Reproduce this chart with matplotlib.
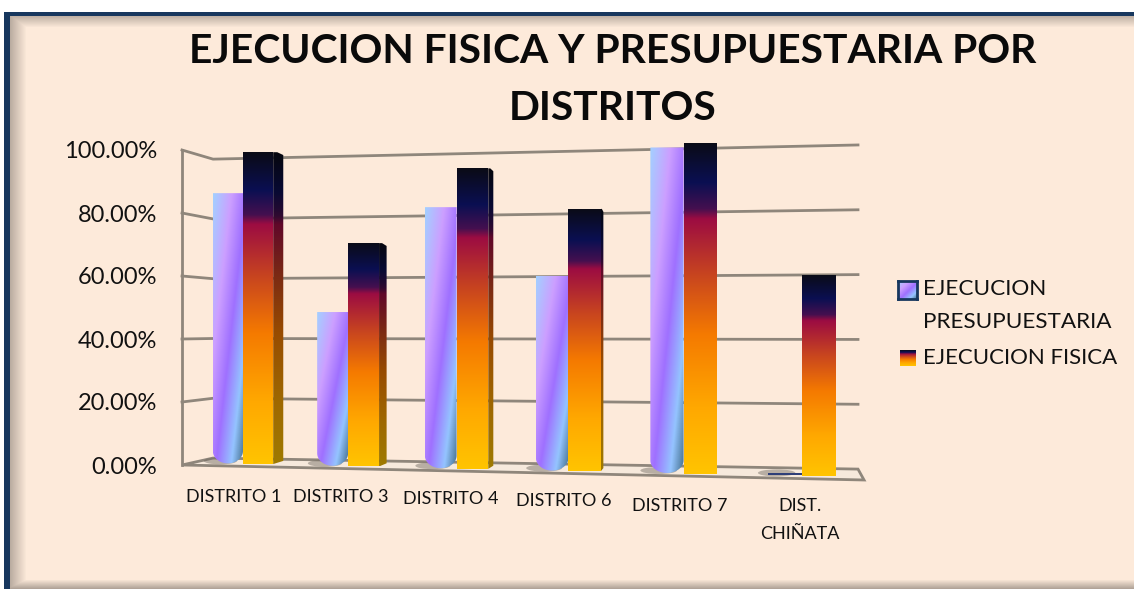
import numpy as np
import matplotlib
matplotlib.use("Agg")
import matplotlib.pyplot as plt
from matplotlib.colors import LinearSegmentedColormap
from matplotlib.patches import Polygon, Ellipse, Rectangle

W, H = 1134, 589

distritos = ["DISTRITO 1", "DISTRITO 3", "DISTRITO 4", "DISTRITO 6", "DISTRITO 7", "DIST.\nCHIÑATA"]
presupuestaria = [86, 48.4, 81, 59.7, 98.5, 0]
fisica = [99, 70, 93, 80.2, 100, 60]
yticks = [0, 20, 40, 60, 80, 100]
leyenda = ["EJECUCION\nPRESUPUESTARIA", "EJECUCION FISICA"]
titulo = "EJECUCION FISICA Y PRESUPUESTARIA POR\nDISTRITOS"

plt.rcParams["font.family"] = ["Lato", "DejaVu Sans"]

fis_cmap = LinearSegmentedColormap.from_list("fis", [
    (0.0, "#FFC400"), (0.2, "#FFA800"), (0.42, "#F57A00"), (0.6, "#C8451F"),
    (0.77, "#9C0C42"), (0.80, "#45104F"), (0.88, "#0A0F52"), (1.0, "#0B0B16")])
pres_cmap = LinearSegmentedColormap.from_list("pres", [
    (0.0, "#A3D0FF"), (0.3, "#CC9FFF"), (0.55, "#9F70FF"), (0.8, "#94C4FF"), (1.0, "#44708E")])

fig = plt.figure(figsize=(W / 100, H / 100), dpi=100, facecolor="white")

# fondo del panel con sombra interior
bg = fig.add_axes([0, 0, 1, 1], zorder=0)
bg.set_axis_off()
xx, yy = np.meshgrid(np.arange(W), np.arange(H))
sombra = np.maximum.reduce([
    np.clip(1 - (xx - 10) / 16, 0, 1) * 0.35,
    np.clip(1 - (yy - 15) / 12, 0, 1) * 0.35,
    np.clip(1 - (H - 1 - yy) / 9, 0, 1) * 0.4])
panel = np.array([253, 234, 218]) / 255
img = panel[None, None, :] * (1 - sombra[..., None] * 0.75)
bg.imshow(img, extent=[0, W, H, 0], aspect="auto")
bg.add_patch(Rectangle((4, 12), 6, H - 12, color="#17375E", lw=0))
bg.add_patch(Rectangle((4, 12), W - 4, 3.5, color="#17375E", lw=0))
bg.add_patch(Rectangle((0, 0), W, 12, color="white", lw=0))
bg.add_patch(Rectangle((0, 0), 4, H, color="white", lw=0))
bg.set_xlim(0, W)
bg.set_ylim(H, 0)

# ejes: pared izquierda x=182, derecha x=858, 0% en y=465, 100% en y=150
ax = fig.add_axes([182 / W, 1 - 465 / H, 676 / W, 315 / H], zorder=1)
ax.patch.set_alpha(0)
for s in ax.spines.values():
    s.set_visible(False)


def px(x):
    # un poco de perspectiva en x
    return x + 0.015 * x * (x - 5)


def base(x):
    return 0.3 - 0.76 * x


def escala(x):
    return 1 + 0.0128 * x


def alto(x, v):
    return base(x) + v * escala(x)


def pared(v, x):
    # pared del fondo: se abre hacia la derecha
    t = (x + 0.268) / (5.5 + 0.268)
    izq = v * 0.949 + 2.2
    der = v * 1.029 - 1.3
    return izq + (der - izq) * t


X_IZQ, X_FONDO, X_DER = -0.5456, -0.268, 5.5
GRIS = "#8F867B"

# piso
ax.add_patch(Polygon([(X_IZQ, 0), (X_FONDO, pared(0, X_FONDO)), (X_DER, pared(0, X_DER)), (5.554, -4.76)],
                     closed=True, facecolor="#F6E9DC", edgecolor=GRIS, lw=2, clip_on=False, zorder=1))
# rejilla y pared izquierda
ax.plot([X_IZQ, X_IZQ], [0, 100], color=GRIS, lw=2, zorder=1, clip_on=False)
for v in yticks[1:]:
    ax.plot([X_IZQ, X_FONDO, X_DER], [v, pared(v, X_FONDO), pared(v, X_DER)],
            color=GRIS, lw=2, zorder=1, clip_on=False)


def con_forma(datos, cmap, extent, forma, z):
    im = ax.imshow(datos, cmap=cmap, vmin=0, vmax=1, origin="lower", extent=extent,
                   aspect="auto", interpolation="bilinear", zorder=z)
    forma.set_transform(ax.transData)
    im.set_clip_path(forma)
    im.set_clip_box(fig.bbox)
    return im


grad_v = np.linspace(0, 1, 256)[:, None]
u, w = np.meshgrid(np.linspace(0, 1, 64), np.linspace(0, 1, 256))
grad_cil = u * 0.5 + (1 - w) * 0.5

for i in range(len(distritos)):
    xc = px(i)
    ancho = 0.27 * (1 + 0.025 * i)
    b = base(i)

    # sombra en el piso
    ax.add_patch(Ellipse((xc - ancho * 0.75, b + 1.0), ancho * 1.1, 2.2, color="#6E675E",
                         alpha=0.45, lw=0, zorder=2, clip_on=False))

    # cilindro presupuestaria
    top = alto(i, presupuestaria[i])
    x0, x1 = xc - ancho, xc
    if presupuestaria[i] > 1:
        t = np.linspace(np.pi, 2 * np.pi, 40)
        arco_x = (x0 + x1) / 2 + ancho / 2 * np.cos(t)
        arco_y = b + 4.2 + 4.0 * np.sin(t)
        pts = [(x0, top)] + list(zip(arco_x, arco_y)) + [(x1, top)]
        con_forma(grad_cil, pres_cmap, [x0, x1, b, top], Polygon(pts, closed=True), 3)
    else:
        ax.add_patch(Rectangle((x0, b + 0.2), ancho, 0.9, color="#2F3F78", lw=0, zorder=3, clip_on=False))

    # barra fisica con cara lateral
    top = alto(i, fisica[i])
    x0, x1 = xc, xc + ancho
    lado = max(0.0, 0.09 * (1 - i / 4.0))
    if lado > 0:
        lat = [(x1, b), (x1, top), (x1 + lado * 0.4, top), (x1 + lado, top - 0.9), (x1 + lado, b + 1.0)]
        con_forma(grad_v * 0.999, LinearSegmentedColormap.from_list(
            "lat", [tuple(np.array(fis_cmap(g)[:3]) * 0.62) for g in np.linspace(0, 1, 40)]),
            [x1, x1 + lado, b, top], Polygon(lat, closed=True), 4)
    frente = [(x0, b), (x0, top), (x1, top), (x1, b)]
    con_forma(grad_v, fis_cmap, [x0, x1, b, top], Polygon(frente, closed=True), 5)

ax.set_xlim(X_IZQ, X_DER)
ax.set_ylim(0, 100)
ax.set_yticks(yticks)
ax.set_yticklabels(["%.2f%%" % v for v in yticks], fontsize=17, color="#111111")
ax.tick_params(axis="y", length=0, pad=18)
ax.set_xticks([px(i) - 0.08 + 0.0125 * i for i in range(len(distritos))])
ax.set_xticklabels(distritos, fontsize=13, color="#111111", linespacing=1.9)
ax.tick_params(axis="x", length=0)
pads = [17, 17, 18.5, 20.5, 23.5, 24]
for tick, p in zip(ax.xaxis.get_major_ticks(), pads):
    tick.set_pad(p)

fig.text(613 / W, 1 - 80 / H, titulo, fontsize=29.3, fontweight="bold", color="#0A0A0A",
         ha="center", va="center", linespacing=1.68)

# leyenda
k1 = fig.add_axes([898 / W, 1 - 299 / H, 19 / W, 18 / H], zorder=2)
k1.imshow(grad_cil, cmap=pres_cmap, vmin=0, vmax=1, origin="lower", aspect="auto")
k1.set_xticks([])
k1.set_yticks([])
for s in k1.spines.values():
    s.set_color("#17375E")
    s.set_linewidth(2)
k2 = fig.add_axes([900 / W, 1 - 366 / H, 16 / W, 16 / H], zorder=2)
k2.imshow(grad_v, cmap=fis_cmap, vmin=0, vmax=1, origin="lower", aspect="auto")
k2.set_axis_off()
fig.text(923 / W, 1 - 305.5 / H, leyenda[0], fontsize=16.2, color="#111111", ha="left", va="center", linespacing=1.8)
fig.text(923 / W, 1 - 358 / H, leyenda[1], fontsize=16, color="#111111", ha="left", va="center")

fig.savefig("out.png", dpi=100, facecolor="white")
